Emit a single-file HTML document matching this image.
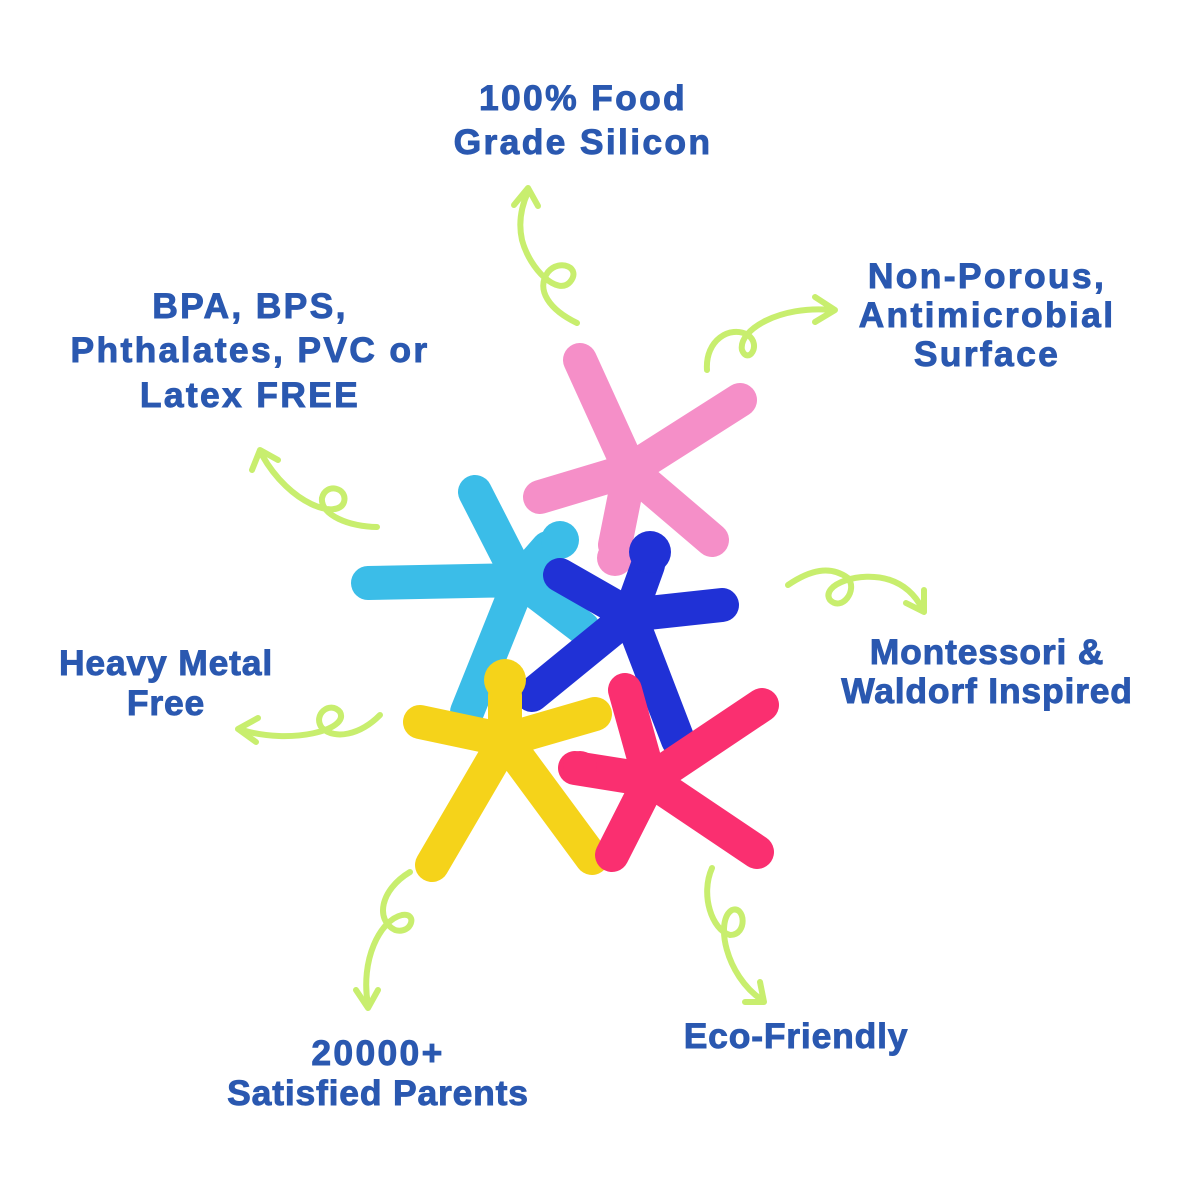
<!DOCTYPE html>
<html><head><meta charset="utf-8"><style>
html,body{margin:0;padding:0;background:#fff;}
svg{display:block}
text{font-family:"Liberation Sans",sans-serif;font-weight:bold;fill:#2a58b0;stroke:#2a58b0;stroke-width:0.9;font-size:35.5px;text-anchor:middle;letter-spacing:2.3px}
text.n{letter-spacing:0.8px}
.a{fill:none;stroke:#c8ee6e;stroke-width:6;stroke-linecap:round;stroke-linejoin:round}
.f{stroke-linecap:round;fill:none}
</style></head><body>
<svg width="1182" height="1182" viewBox="0 0 1182 1182">
<text x="583" y="110">100% Food</text>
<text x="583" y="154">Grade Silicon</text>
<text x="987" y="288">Non-Porous,</text>
<text x="987" y="327">Antimicrobial</text>
<text x="987" y="366">Surface</text>
<text x="250" y="318">BPA, BPS,</text>
<text x="250" y="362">Phthalates, PVC or</text>
<text x="250" y="407">Latex FREE</text>
<text class="n" x="166" y="675">Heavy Metal</text>
<text class="n" x="166" y="715">Free</text>
<text class="n" x="987" y="664">Montessori &amp;</text>
<text class="n" x="987" y="703">Waldorf Inspired</text>
<text x="378" y="1065">20000+</text>
<text class="n" x="378" y="1105">Satisfied Parents</text>
<text class="n" x="796" y="1048">Eco-Friendly</text>

<path class="a" d="M577 323 C550 310 535 290 548 272 C560 258 582 268 570 282 C558 296 530 270 522 240 C518 222 522 205 528 192"/>
<path class="a" d="M514 205 L528 188 L538 206"/>
<path class="a" d="M707 370 C705 340 730 325 748 335 C762 345 748 365 742 350 C738 330 780 305 832 310"/>
<path class="a" d="M815 297 L835 310 L815 322"/>
<path class="a" d="M377 527 C350 527 320 515 322 498 C326 482 348 488 344 502 C338 520 290 505 262 455"/>
<path class="a" d="M252 470 L260 450 L278 460"/>
<path class="a" d="M380 715 C360 735 335 740 322 728 C312 715 330 700 340 712 C350 730 290 745 242 730"/>
<path class="a" d="M258 718 L238 729 L256 742"/>
<path class="a" d="M788 585 C810 570 830 565 848 578 C858 590 842 612 830 600 C820 585 860 570 890 580 C905 585 915 595 922 608"/>
<path class="a" d="M906 603 L924 612 L924 590"/>
<path class="a" d="M410 872 C380 890 375 920 395 930 C412 935 418 912 402 915 C380 920 360 960 368 1005"/>
<path class="a" d="M356 990 L368 1008 L378 990"/>
<path class="a" d="M712 868 C700 895 712 930 730 935 C748 935 745 905 732 910 C715 920 725 975 762 1000"/>
<path class="a" d="M745 1002 L764 1002 L760 982"/>

<g class="f" stroke="#f58fc8" stroke-width="34">
<path d="M630 470 L580 360 M630 470 L740 400 M630 470 L540 497 M630 470 L712 540 M630 470 L615 545"/>
</g>
<circle cx="615" cy="558" r="18" fill="#f58fc8"/>
<g class="f" stroke="#3bbde8" stroke-width="34">
<path d="M520 580 L475 492 M520 580 L368 583 M520 580 L583 628 M520 580 L467 712 M520 580 L548 548"/>
</g>
<circle cx="560" cy="540" r="19" fill="#3bbde8"/>
<g class="f" stroke="#2031d6" stroke-width="34">
<path d="M630 615 L648 565 M630 615 L722 605 M630 615 L560 575 M630 615 L532 695 M630 615 L678 740"/>
</g>
<circle cx="650" cy="552" r="21" fill="#2031d6"/>
<g class="f" stroke="#f5d31a" stroke-width="34">
<path d="M505 740 L505 695 M505 740 L420 722 M505 740 L595 714 M505 740 L432 865 M505 740 L592 858"/>
</g>
<circle cx="505" cy="680" r="21" fill="#f5d31a"/>
<g class="f" stroke="#fa2f70" stroke-width="34">
<path d="M650 780 L625 690 M650 780 L762 705 M650 780 L575 768 M650 780 L757 852 M650 780 L612 855"/>
</g>
<circle cx="580" cy="768" r="17" fill="#fa2f70"/>
</svg>
</body></html>
